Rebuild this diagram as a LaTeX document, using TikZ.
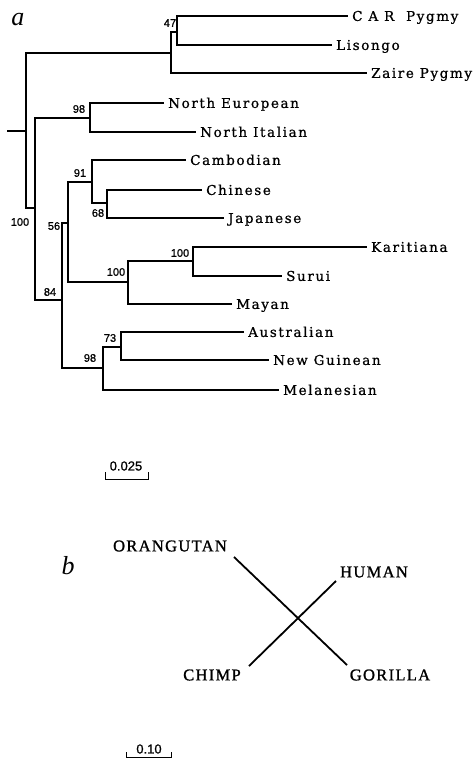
\documentclass[tikz,border=0pt]{standalone}
\usepackage{fontspec}
\setmainfont{Liberation Serif}
\newfontfamily\taxfont[LetterSpace=12,FakeBold=0.8]{DejaVu Serif}
\newfontfamily\supfont[FakeBold=1]{Liberation Sans}
\newfontfamily\apefont[LetterSpace=8,FakeBold=1.2]{Liberation Serif}
\newfontfamily\panelfont{Liberation Serif}
\begin{document}
\begin{tikzpicture}[x=1pt,y=-1pt,
  branch/.style={line width=1.8pt},
  taxon/.style={anchor=west, inner sep=0pt, inner xsep=4pt,
    font=\taxfont\fontsize{13.5}{14}\selectfont, text height=9.8pt, text depth=0pt},
  boot/.style={inner sep=0pt, font=\supfont\fontsize{11}{12}\selectfont},
  ape/.style={inner sep=0pt, font=\apefont\fontsize{16.5}{18}\selectfont},
  panel/.style={inner sep=0pt, font=\panelfont\itshape\fontsize{26}{28}\selectfont},
  scalebar/.style={line width=1pt},
  scalelab/.style={inner sep=0pt, font=\supfont\fontsize{13}{14}\selectfont}]
\useasboundingbox (0,0) rectangle (476,763);

% ---------- panel a: population tree ----------
\node[panel] (pa) at (18,20) {a};

% leaves
\node[taxon] (car)  at (348,16)  {C A R\ \ Pygmy};
\node[taxon] (lis)  at (332,45)  {Lisongo};
\node[taxon] (zai)  at (367,73)  {Zaire Pygmy};
\node[taxon] (neu)  at (164,103) {North European};
\node[taxon] (nit)  at (196,132) {North Italian};
\node[taxon] (cam)  at (186,160) {Cambodian};
\node[taxon] (chi)  at (202,190) {Chinese};
\node[taxon] (jap)  at (224,218) {Japanese};
\node[taxon] (kar)  at (367,247) {Karitiana};
\node[taxon] (sur)  at (282,276) {Surui};
\node[taxon] (may)  at (232,304) {Mayan};
\node[taxon] (aus)  at (244,332) {Australian};
\node[taxon] (ngu)  at (269,360) {New Guinean};
\node[taxon] (mel)  at (279,390) {Melanesian};

% internal nodes
\coordinate (stub) at (7,131);
\coordinate (root) at (26,131);
\coordinate (pyg)  at (171,53);
\coordinate (pyg2) at (177,32);
\coordinate (n1)   at (35,208);
\coordinate (eur)  at (90,118);
\coordinate (c84)  at (62,300);
\coordinate (c56)  at (68,223);
\coordinate (c91)  at (92,182);
\coordinate (c68)  at (107,203);
\coordinate (amA)  at (128,282);
\coordinate (amB)  at (193,261);
\coordinate (c98)  at (103,368);
\coordinate (c73)  at (121,347);

% branches
\draw[branch] (stub) -- (root);
\draw[branch] (root) |- (pyg);
\draw[branch] (root) |- (n1);
\draw[branch] (pyg) |- (pyg2);
\draw[branch] (pyg) |- (zai.west);
\draw[branch] (pyg2) |- (car.west);
\draw[branch] (pyg2) |- (lis.west);
\draw[branch] (n1) |- (eur);
\draw[branch] (n1) |- (c84);
\draw[branch] (eur) |- (neu.west);
\draw[branch] (eur) |- (nit.west);
\draw[branch] (c84) |- (c56);
\draw[branch] (c84) |- (c98);
\draw[branch] (c56) |- (c91);
\draw[branch] (c56) |- (amA);
\draw[branch] (c91) |- (cam.west);
\draw[branch] (c91) |- (c68);
\draw[branch] (c68) |- (chi.west);
\draw[branch] (c68) |- (jap.west);
\draw[branch] (amA) |- (amB);
\draw[branch] (amA) |- (may.west);
\draw[branch] (amB) |- (kar.west);
\draw[branch] (amB) |- (sur.west);
\draw[branch] (c98) |- (c73);
\draw[branch] (c98) |- (mel.west);
\draw[branch] (c73) |- (aus.west);
\draw[branch] (c73) |- (ngu.west);

% bootstrap values
\node[boot] (b47)  at (170,23)  {47};
\node[boot] (b98a) at (79,109)  {98};
\node[boot] (b100a) at (20,222) {100};
\node[boot] (b84)  at (50,292)  {84};
\node[boot] (b56)  at (54,226)  {56};
\node[boot] (b91)  at (80,173)  {91};
\node[boot] (b68)  at (98,213)  {68};
\node[boot] (b100b) at (116,272) {100};
\node[boot] (b100c) at (180,253) {100};
\node[boot] (b73)  at (110,338) {73};
\node[boot] (b98b) at (90,358)  {98};

% scale bar
\coordinate (sa1) at (105,472);
\coordinate (sa2) at (105,479);
\coordinate (sa3) at (148,479);
\coordinate (sa4) at (148,472);
\draw[scalebar] (sa1) -- (sa2) -- (sa3) -- (sa4);
\node[scalelab] (sal) at (126,466) {0.025};

% ---------- panel b: great-ape tree ----------
\node[panel] (pb) at (68,566) {b};

\node[ape] (ora) at (170,546) {ORANGUTAN};
\node[ape] (hum) at (374,572) {HUMAN};
\node[ape] (chm) at (212,675) {CHIMP};
\node[ape] (gor) at (390,675) {GORILLA};

\coordinate (oraE) at (234,557);
\coordinate (gorE) at (347,665);
\coordinate (humE) at (336,581);
\coordinate (chmE) at (249,666);
\draw[branch] (oraE) -- (gorE);
\draw[branch] (humE) -- (chmE);

\coordinate (sb1) at (126,752);
\coordinate (sb2) at (126,757);
\coordinate (sb3) at (171,757);
\coordinate (sb4) at (171,752);
\draw[scalebar] (sb1) -- (sb2) -- (sb3) -- (sb4);
\node[scalelab] (sbl) at (149,749) {0.10};
\end{tikzpicture}
\end{document}
